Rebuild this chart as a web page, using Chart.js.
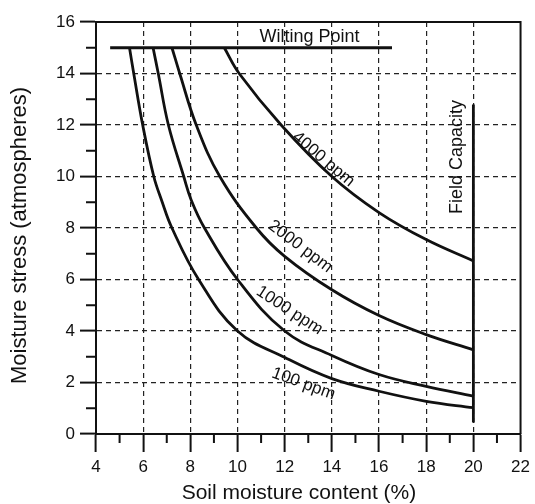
<!DOCTYPE html>
<html>
<head>
<meta charset="utf-8">
<script src="https://cdn.jsdelivr.net/npm/chart.js@4.4.0/dist/chart.umd.min.js"></script>
<style>
  html, body { margin: 0; padding: 0; background: #fff; }
  canvas { display: block; }
</style>
</head>
<body>
<canvas id="stressChart" width="535" height="504"></canvas>
<script>
// values: soil moisture (%) vs moisture stress (atm)
const ppm100X = [5.42, 5.6, 5.98, 6.45, 6.78, 7.22, 8.35, 10.0, 12.05, 14.0, 16.0, 18.0, 20.0];
const ppm100Y = [15, 14, 12, 10, 9.08, 8, 6, 4, 2.95, 2.15, 1.66, 1.27, 1.02];

const ppm1000X = [6.42, 6.64, 7.07, 7.72, 8.04, 8.6, 10.0, 12.0, 14.0, 16.0, 18.0, 20.0];
const ppm1000Y = [15, 14, 12, 10, 9.08, 8, 6, 4, 3.05, 2.31, 1.85, 1.47];

const ppm2000X = [7.22, 7.55, 8.25, 9.25, 10.8, 12.0, 14.0, 16.0, 18.0, 20.0];
const ppm2000Y = [15, 14, 12, 10, 8.0, 6.9, 5.6, 4.6, 3.86, 3.27];

const ppm4000X = [9.44, 10.07, 11.85, 14.0, 16.0, 18.0, 20.0];
const ppm4000Y = [15, 14, 12, 10, 8.6, 7.55, 6.72];

const wiltingX = [4.6, 16.55];
const wiltingY = [15, 15];

const fieldX = [20, 20];
const fieldY = [0.45, 12.8];

const curveNames = ['100 ppm', '1000 ppm', '2000 ppm', '4000 ppm'];
const xTitle = 'Soil moisture content (%)';
const yTitle = 'Moisture stress (atmospheres)';

const toPoints = (xs, ys) => xs.map((x, i) => ({ x: x, y: ys[i] }));

const ink = '#111';
const font = 'Liberation Sans, Arial, Helvetica, sans-serif';

const lineSet = (label, xs, ys, smooth) => ({
  label: label,
  data: toPoints(xs, ys),
  showLine: true,
  borderColor: ink,
  borderWidth: 2.8,
  pointRadius: 0,
  tension: smooth ? 0.4 : 0
});

// text written on the plot, placed in data units
const notes = [
  { text: curveNames[3], x: 13.64, y: 10.67, angle: 40, size: 17 },
  { text: curveNames[2], x: 12.66, y: 7.28, angle: 37, size: 17 },
  { text: curveNames[1], x: 12.2, y: 4.8, angle: 33, size: 17 },
  { text: curveNames[0], x: 12.8, y: 1.95, angle: 20, size: 17 },
  { text: 'Wilting Point', x: 13.05, y: 15.4, angle: 0, size: 18 },
  { text: 'Field Capacity', x: 19.32, y: 10.76, angle: -90, size: 18 }
];

const extras = {
  id: 'extras',
  afterDatasetsDraw(chart) {
    const { ctx, chartArea: a, scales: { x, y } } = chart;
    ctx.save();
    ctx.strokeStyle = ink;
    ctx.lineWidth = 2;
    ctx.beginPath();
    // top and right frame
    ctx.moveTo(a.left, a.top);
    ctx.lineTo(a.right, a.top);
    ctx.lineTo(a.right, a.bottom);
    // minor ticks
    for (let v = 5; v < 22; v += 2) {
      const px = x.getPixelForValue(v);
      ctx.moveTo(px, a.bottom);
      ctx.lineTo(px, a.bottom + 9);
    }
    for (let v = 1; v < 16; v += 2) {
      const py = y.getPixelForValue(v);
      ctx.moveTo(a.left - 10, py);
      ctx.lineTo(a.left, py);
    }
    ctx.stroke();

    ctx.fillStyle = ink;
    ctx.textAlign = 'center';
    ctx.textBaseline = 'middle';
    notes.forEach(n => {
      ctx.save();
      ctx.translate(x.getPixelForValue(n.x), y.getPixelForValue(n.y));
      ctx.rotate(n.angle * Math.PI / 180);
      ctx.font = n.size + 'px ' + font;
      ctx.fillText(n.text, 0, 0);
      ctx.restore();
    });

    // axis titles (the original sits them a little off-centre)
    ctx.font = '21px ' + font;
    ctx.fillText(xTitle, a.left + (a.right - a.left) * 0.478, chart.height - 11);
    ctx.save();
    ctx.translate(20, a.top + (a.bottom - a.top) * 0.518);
    ctx.rotate(-Math.PI / 2);
    ctx.font = '22px ' + font;
    ctx.fillText(yTitle, 0, 0);
    ctx.restore();
    ctx.restore();
  }
};

const gridColor = (lo, hi) => ctx => {
  const v = ctx.tick ? ctx.tick.value : null;
  return (v === lo || v === hi) ? 'rgba(0,0,0,0)' : '#222';
};

new Chart(document.getElementById('stressChart'), {
  type: 'scatter',
  data: {
    datasets: [
      lineSet(curveNames[0], ppm100X, ppm100Y, true),
      lineSet(curveNames[1], ppm1000X, ppm1000Y, true),
      lineSet(curveNames[2], ppm2000X, ppm2000Y, true),
      lineSet(curveNames[3], ppm4000X, ppm4000Y, true),
      lineSet('Wilting Point', wiltingX, wiltingY, false),
      lineSet('Field Capacity', fieldX, fieldY, false)
    ]
  },
  options: {
    responsive: false,
    animation: false,
    devicePixelRatio: 1,
    layout: { padding: { top: 22, right: 11, left: 0, bottom: 0 } },
    plugins: {
      legend: { display: false },
      tooltip: { enabled: false }
    },
    scales: {
      x: {
        type: 'linear',
        min: 4,
        max: 22,
        afterFit: s => { s.height = 70; },
        ticks: {
          stepSize: 2,
          color: ink,
          padding: 5,
          font: { family: font, size: 17 }
        },
        grid: {
          color: gridColor(4, 22),
          lineWidth: 1.2,
          tickLength: 18,
          tickColor: ink,
          tickWidth: 2,
          tickBorderDash: []
        },
        border: { display: true, color: ink, width: 2, dash: [5, 4] },
        title: { display: false }
      },
      y: {
        type: 'linear',
        min: 0,
        max: 16,
        afterFit: s => { s.width = 96; },
        ticks: {
          stepSize: 2,
          color: ink,
          padding: 5,
          font: { family: font, size: 17 }
        },
        grid: {
          color: gridColor(0, 16),
          lineWidth: 1.2,
          tickLength: 16,
          tickColor: ink,
          tickWidth: 2,
          tickBorderDash: []
        },
        border: { display: true, color: ink, width: 2, dash: [5, 4] },
        title: { display: false }
      }
    }
  },
  plugins: [extras]
});
</script>
</body>
</html>
